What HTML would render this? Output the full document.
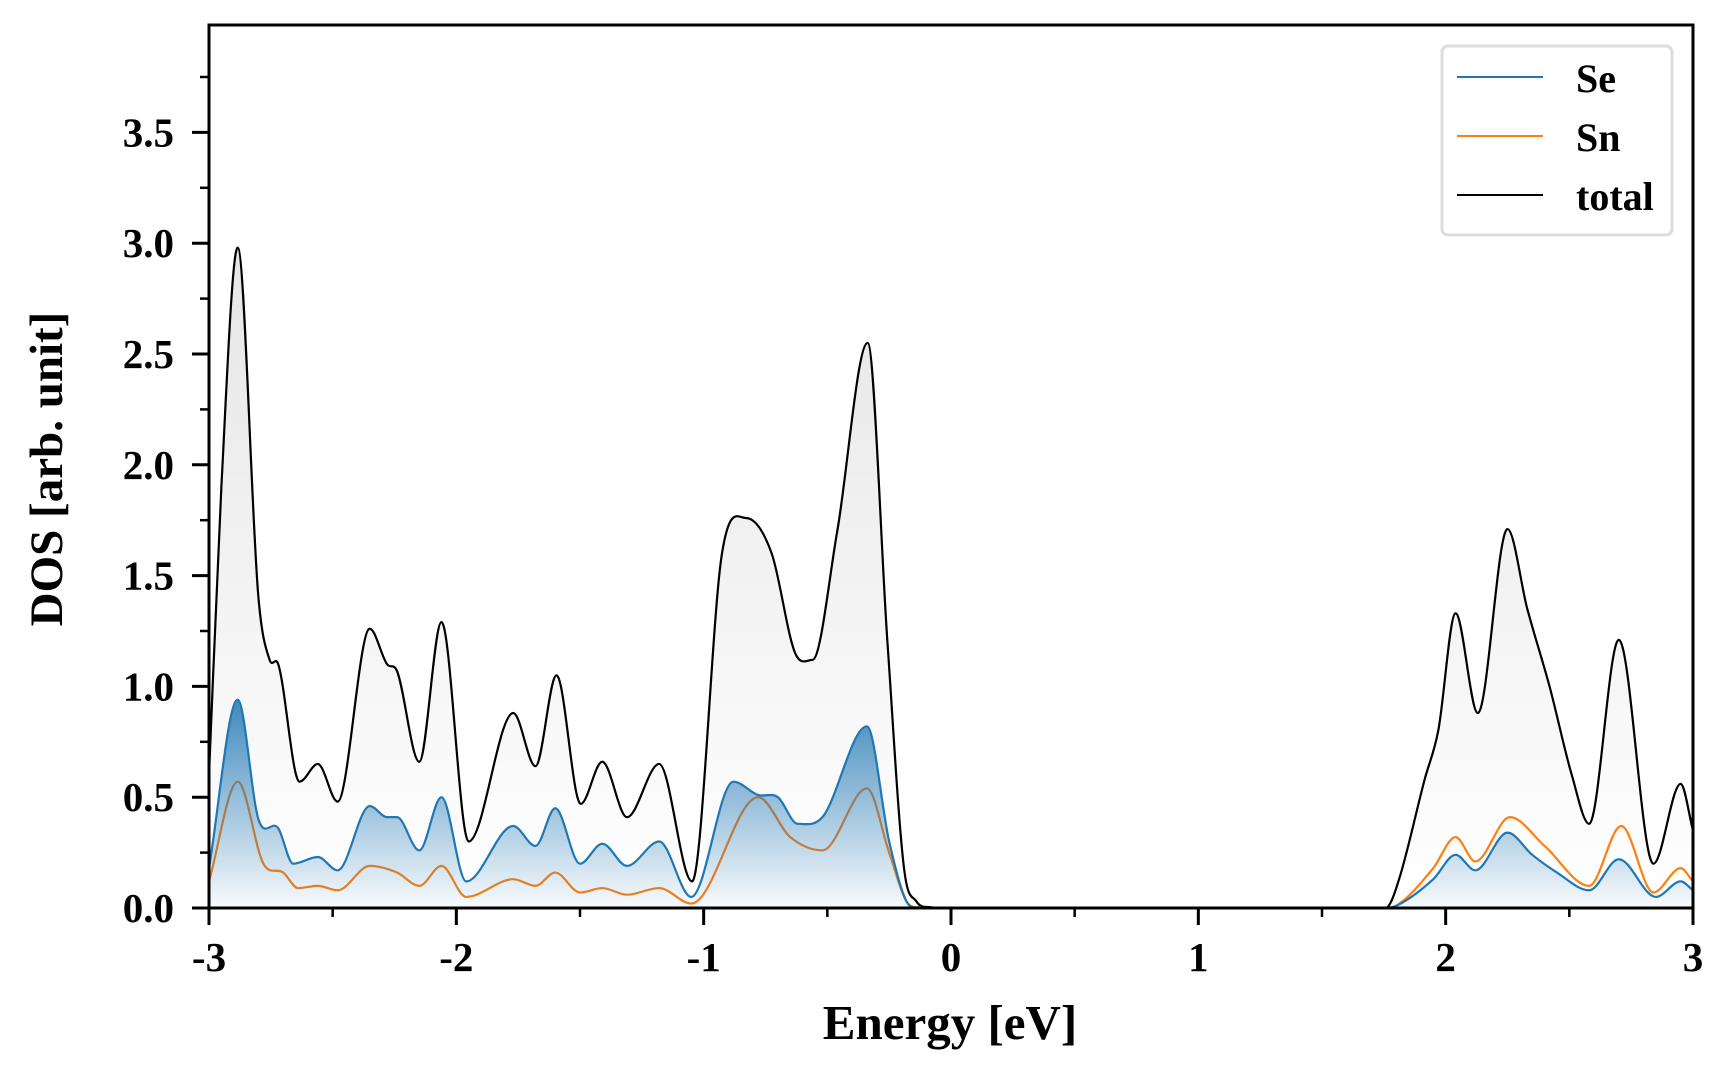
<!DOCTYPE html>
<html><head><meta charset="utf-8"><style>
html,body{margin:0;padding:0;background:#fff;}
svg{display:block;font-family:"Liberation Serif",serif;font-weight:bold;}
</style></head><body>
<svg id="chart" width="1728" height="1080" viewBox="0 0 1728 1080">
<defs>
<linearGradient id="gTot" gradientUnits="userSpaceOnUse" x1="0" y1="250" x2="0" y2="908"><stop offset="0" stop-color="#e6e6e6"/><stop offset="1" stop-color="#ffffff"/></linearGradient>
<linearGradient id="gSe" gradientUnits="userSpaceOnUse" x1="0" y1="700" x2="0" y2="908"><stop offset="0" stop-color="#1f77b4" stop-opacity="0.85"/><stop offset="1" stop-color="#1f77b4" stop-opacity="0.03"/></linearGradient>
<clipPath id="clip"><rect x="209" y="25" width="1484" height="883"/></clipPath>
</defs>
<g id="plot" clip-path="url(#clip)"></g>
<g id="axes"></g>
<text x="950" y="1039" font-size="49" text-anchor="middle">Energy [eV]</text>
<text transform="translate(62,469) rotate(-90)" font-size="47" text-anchor="middle">DOS [arb. unit]</text>
<g>
<rect x="1442" y="46" width="230" height="189" rx="6" fill="#fff" stroke="#dcdcdc" stroke-width="3"/>
<g><line x1="1457" y1="77" x2="1543" y2="77" stroke="#1f77b4" stroke-width="2"/><text x="1576" y="92" font-size="40">Se</text></g>
<g><line x1="1457" y1="136" x2="1543" y2="136" stroke="#ff7f0e" stroke-width="2"/><text x="1576" y="151" font-size="40">Sn</text></g>
<g><line x1="1457" y1="195" x2="1543" y2="195" stroke="#000" stroke-width="2"/><text x="1576" y="210" font-size="40">total</text></g>
</g>
</svg>
<script>
const totE=[-3,-2.95,-2.884,-2.80,-2.755,-2.72,-2.634,-2.56,-2.48,-2.35,-2.28,-2.24,-2.15,-2.06,-1.95,-1.77,-1.68,-1.595,-1.497,-1.41,-1.31,-1.18,-1.047,-0.926,-0.83,-0.725,-0.63,-0.56,-0.46,-0.337,-0.257,-0.19,-0.14,-0.08,-0.03,1.72,1.77,1.817,1.915,1.97,2.04,2.13,2.25,2.33,2.42,2.51,2.58,2.70,2.84,2.95,3.0];
const totV=[0.6,1.9,2.98,1.4,1.12,1.1,0.57,0.65,0.48,1.26,1.1,1.07,0.66,1.29,0.30,0.88,0.64,1.05,0.47,0.66,0.41,0.65,0.12,1.6,1.76,1.6,1.15,1.12,1.7,2.55,1.2,0.18,0.03,0.003,0,0,0.01,0.15,0.58,0.8,1.33,0.88,1.71,1.35,1.0,0.6,0.38,1.21,0.2,0.56,0.35];
const seE=[-3,-2.884,-2.80,-2.72,-2.66,-2.56,-2.48,-2.35,-2.28,-2.24,-2.15,-2.06,-1.96,-1.77,-1.68,-1.6,-1.5,-1.41,-1.31,-1.18,-1.05,-0.88,-0.78,-0.70,-0.62,-0.52,-0.34,-0.25,-0.18,-0.12,-0.05,1.75,1.8,1.95,2.04,2.12,2.25,2.35,2.45,2.58,2.70,2.85,2.95,3.0];
const seV=[0.18,0.94,0.4,0.36,0.2,0.23,0.17,0.46,0.41,0.41,0.26,0.5,0.12,0.37,0.28,0.45,0.2,0.29,0.19,0.3,0.05,0.57,0.51,0.5,0.38,0.41,0.82,0.3,0.03,0.002,0,0,0.01,0.13,0.24,0.17,0.34,0.24,0.16,0.08,0.22,0.05,0.12,0.08];
const snE=[-3,-2.884,-2.78,-2.7,-2.64,-2.56,-2.48,-2.35,-2.24,-2.15,-2.06,-1.96,-1.77,-1.68,-1.6,-1.5,-1.41,-1.31,-1.18,-1.05,-0.78,-0.65,-0.52,-0.34,-0.25,-0.18,-0.12,-0.05,1.75,1.8,1.95,2.04,2.12,2.26,2.4,2.58,2.71,2.84,2.95,3.0];
const snV=[0.12,0.57,0.2,0.16,0.09,0.1,0.08,0.19,0.16,0.1,0.19,0.05,0.13,0.1,0.16,0.07,0.09,0.06,0.09,0.02,0.5,0.32,0.26,0.54,0.25,0.03,0.002,0,0,0.01,0.18,0.32,0.21,0.41,0.28,0.1,0.37,0.07,0.18,0.12];
const xTicks=[-3,-2,-1,0,1,2,3];
const xTickLabels=["-3","-2","-1","0","1","2","3"];
const yTicks=[0,0.5,1,1.5,2,2.5,3,3.5];
const yTickLabels=["0.0","0.5","1.0","1.5","2.0","2.5","3.0","3.5"];

const X0=209,X1=1693,Y0=908,Y1=25,XMIN=-3,XMAX=3,YMAX=(908-25)/221.6;
const sx=e=>X0+(e-XMIN)/(XMAX-XMIN)*(X1-X0);
const sy=v=>Y0-v/YMAX*(Y0-Y1);
const NS="http://www.w3.org/2000/svg";
function mk(tag,attrs,parent){const el=document.createElementNS(NS,tag);for(const k in attrs)el.setAttribute(k,attrs[k]);parent.appendChild(el);return el;}
function mono(E,V){
  const xs=E.map(sx),ys=V.map(sy),n=xs.length,d=[],m=[];
  for(let i=0;i<n-1;i++)d.push((ys[i+1]-ys[i])/(xs[i+1]-xs[i]));
  for(let i=0;i<n;i++){
    if(i==0)m.push(d[0]);else if(i==n-1)m.push(d[n-2]);
    else m.push(d[i-1]*d[i]<=0?0:(d[i-1]+d[i])/2);
  }
  let p="M"+xs[0]+","+ys[0];
  for(let i=0;i<n-1;i++){const h=(xs[i+1]-xs[i])/3;
    p+=" C"+(xs[i]+h)+","+(ys[i]+m[i]*h)+" "+(xs[i+1]-h)+","+(ys[i+1]-m[i+1]*h)+" "+xs[i+1]+","+ys[i+1];}
  return p;
}
const plot=document.getElementById('plot');
const tp=mono(totE,totV),sp=mono(seE,seV),np=mono(snE,snV);
const close=" L"+X1+","+Y0+" L"+X0+","+Y0+" Z";
let el;
el=mk('path',{d:tp+close,fill:'url(#gTot)'},plot);


el=mk('path',{d:tp,fill:'none',stroke:'#000','stroke-width':2.2},plot);


el=mk('path',{d:np,fill:'none',stroke:'#ff7f0e','stroke-width':2.2},plot);


el=mk('path',{d:sp+close,fill:'url(#gSe)'},plot);


el=mk('path',{d:sp,fill:'none',stroke:'#1f77b4','stroke-width':2.2},plot);



const ax=document.getElementById('axes');
el=mk('rect',{x:X0,y:Y1,width:X1-X0,height:Y0-Y1,fill:'none',stroke:'#000','stroke-width':3},ax);


xTicks.forEach((t,i)=>{
  const x=sx(t);
  el=mk('line',{x1:x,y1:Y0,x2:x,y2:Y0+17,stroke:'#000','stroke-width':3},ax);
  
  
  el=mk('text',{x:x,y:971,'font-size':41,'text-anchor':'middle'},ax);
  el.textContent=xTickLabels[i];
  
  
  if(i<xTicks.length-1){
    el=mk('line',{x1:sx(t+0.5),y1:Y0,x2:sx(t+0.5),y2:Y0+9,stroke:'#000','stroke-width':2.5},ax);
    
    
  }
});
yTicks.forEach((t,i)=>{
  const y=sy(t);
  el=mk('line',{x1:X0-17,y1:y,x2:X0,y2:y,stroke:'#000','stroke-width':3},ax);
  
  
  el=mk('text',{x:174,y:y+14,'font-size':41,'text-anchor':'end'},ax);
  el.textContent=yTickLabels[i];
  
  
  el=mk('line',{x1:X0-9,y1:sy(t+0.25),x2:X0,y2:sy(t+0.25),stroke:'#000','stroke-width':2.5},ax);
  
  
});
</script>
</body></html>
